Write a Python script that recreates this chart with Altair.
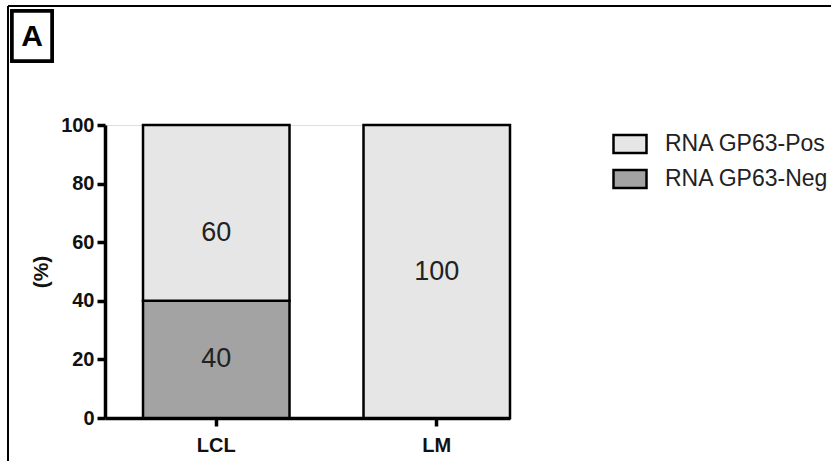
import altair as alt
import pandas as pd

categories = ["LCL", "LCL", "LM"]
series = ["RNA GP63-Neg", "RNA GP63-Pos", "RNA GP63-Pos"]
values = [40, 60, 100]
label_pos = [20, 63, 50]
legend_order = ["RNA GP63-Pos", "RNA GP63-Neg"]
fill_colors = ["#e6e6e6", "#a3a3a3"]

df = pd.DataFrame({"cat": categories, "series": series, "value": values,
                   "label": [str(v) for v in values], "lpos": label_pos,
                   "order": [0 if s.endswith("Neg") else 1 for s in series]})

FONT = "Liberation Sans"
W, H = 405, 293
LEFT, TOP = 105, 125

xscale = alt.Scale(paddingInner=0.3356, paddingOuter=0.0862, align=1)

bars = alt.Chart(df).mark_bar(stroke="black", strokeWidth=2.5, opacity=1).encode(
    x=alt.X("cat:N", scale=xscale, sort=["LCL", "LM"],
            axis=alt.Axis(title=None, labelFont=FONT, labelFontWeight="bold",
                          labelFontSize=20, labelColor="#111", labelAngle=0,
                          labelPadding=9, domainColor="black", domainWidth=3.5,
                          tickColor="black", tickWidth=3.5, tickSize=8)),
    y=alt.Y("value:Q", stack="zero", scale=alt.Scale(domain=[0, 100]),
            axis=alt.Axis(title="(%)", values=[0, 20, 40, 60, 80, 100],
                          labelFont=FONT, labelFontWeight="bold", labelFontSize=20,
                          labelColor="#111", labelPadding=3, domainColor="black",
                          domainWidth=3.5, tickColor="black", tickWidth=3.5, tickSize=8,
                          grid=False, titleFont=FONT, titleFontSize=21,
                          titleFontWeight="bold", titleColor="#111", titlePadding=9)),
    fill=alt.Fill("series:N", scale=alt.Scale(domain=legend_order, range=fill_colors),
                  legend=alt.Legend(title=None, orient="none", legendX=507, legendY=1,
                                    symbolType="M-1,-0.55H1V0.55H-1Z", symbolSize=1089,
                                    symbolStrokeColor="black", symbolStrokeWidth=2.5,
                                    symbolOpacity=1,
                                    labelFont=FONT, labelFontSize=23, labelColor="#222",
                                    labelOffset=17, rowPadding=2, labelLimit=600)),
    order=alt.Order("order:Q"),
)

texts = alt.Chart(df).mark_text(font=FONT, fontSize=27, color="#222").encode(
    x=alt.X("cat:N", scale=xscale, sort=["LCL", "LM"]),
    y=alt.Y("lpos:Q"),
    text="label:N",
)

frame = alt.Chart(df).mark_rule(color="black", strokeWidth=2).encode(
    x=alt.value(8 - LEFT), x2=alt.value(831 - LEFT + 5),
    y=alt.value(6 - TOP), y2=alt.value(6 - TOP))
frame_left = alt.Chart(df).mark_rule(color="black", strokeWidth=2).encode(
    x=alt.value(8 - LEFT), y=alt.value(6 - TOP), y2=alt.value(470 - TOP))

box = alt.Chart(df).mark_rect(fill="white", stroke="black", strokeWidth=3.5).encode(
    x=alt.value(12 - LEFT), x2=alt.value(52 - LEFT),
    y=alt.value(11 - TOP), y2=alt.value(61 - TOP))
letter = alt.Chart(pd.DataFrame({"t": ["A"]})).mark_text(
    font=FONT, fontSize=30, fontWeight="bold", color="black").encode(
    x=alt.value(32 - LEFT), y=alt.value(37 - TOP), text="t:N")

chart = alt.layer(frame, frame_left, box, letter, bars, texts).properties(
    width=W, height=H,
    padding={"left": LEFT, "top": TOP, "right": 831 - LEFT - W, "bottom": 461 - TOP - H},
    autosize=alt.AutoSizeParams(type="none"),
).configure_view(stroke=None).configure(background="white")

chart.save("out.html", embed_options={"renderer": "svg", "actions": False})
